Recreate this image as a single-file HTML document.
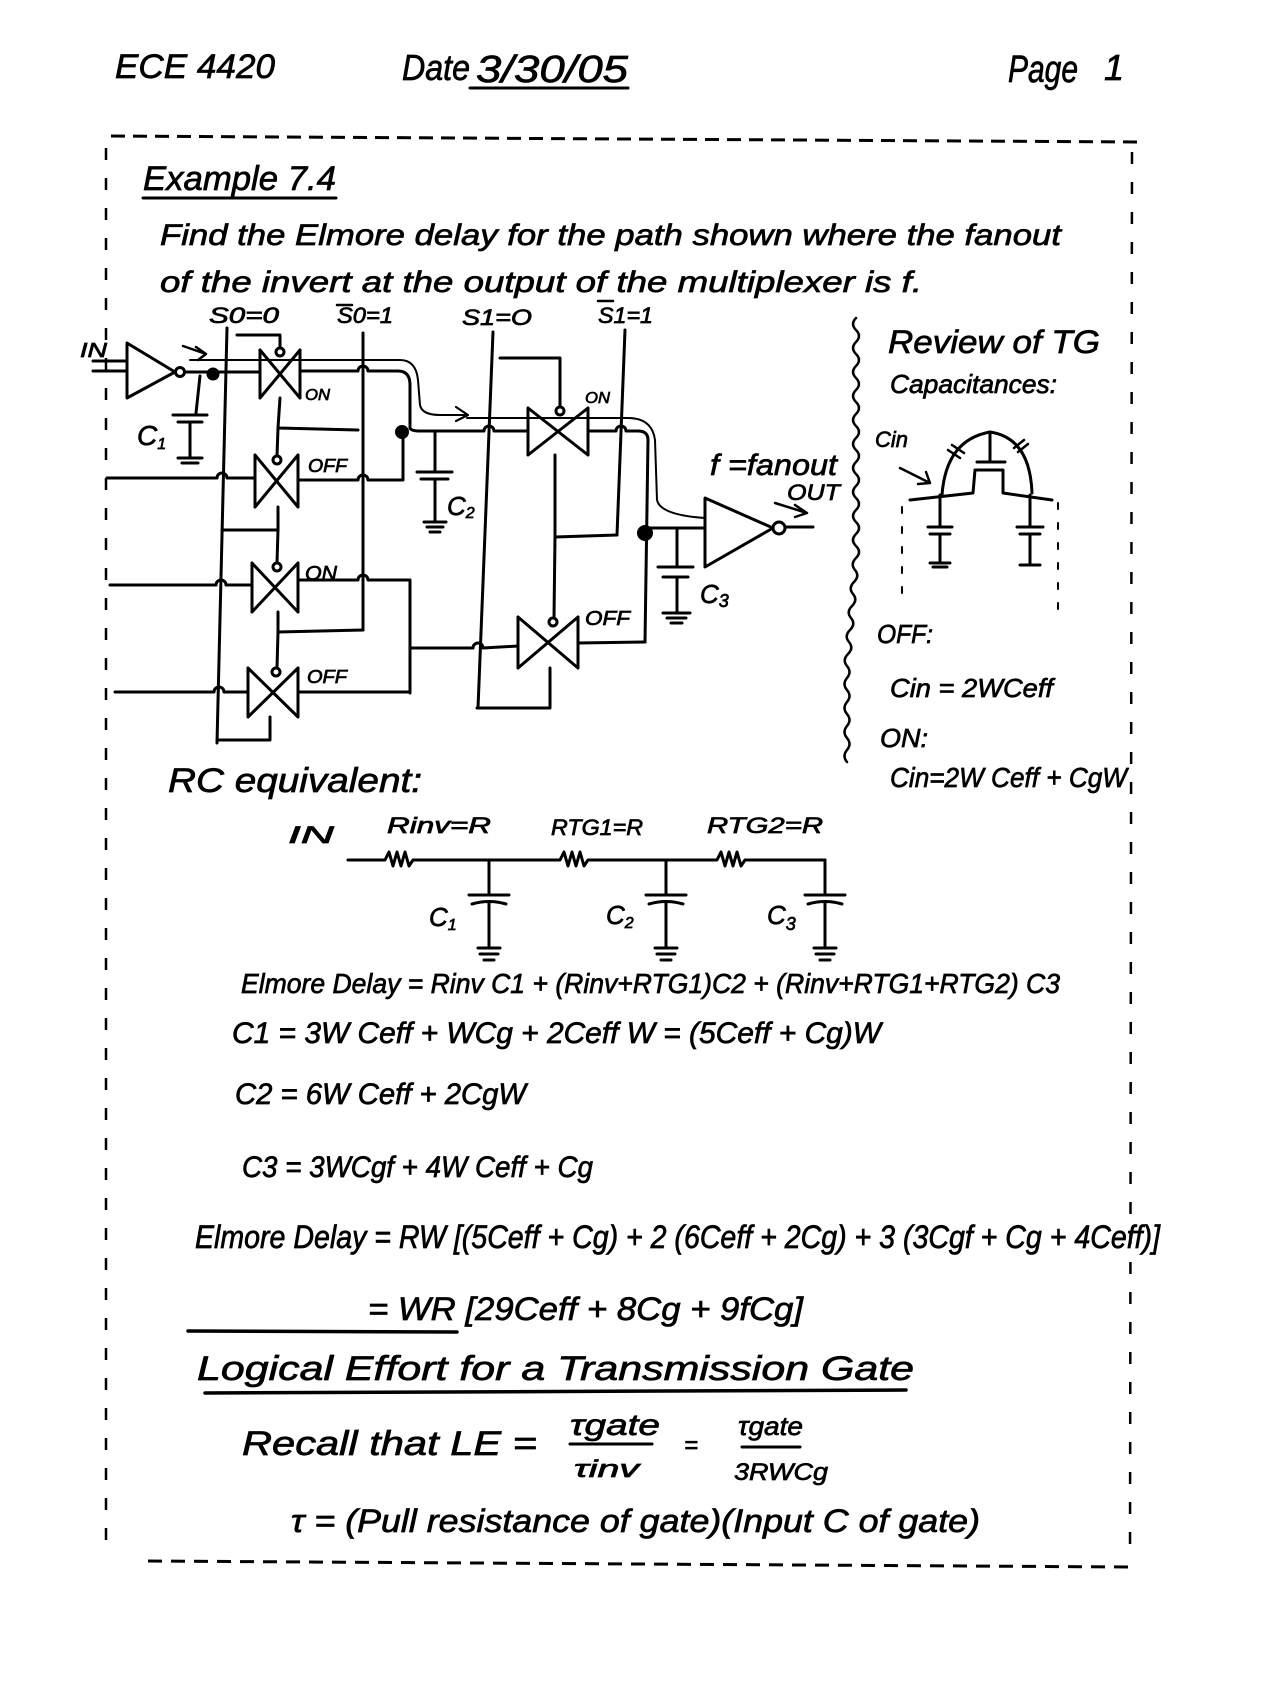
<!DOCTYPE html>
<html><head><meta charset="utf-8">
<style>
html,body{margin:0;padding:0;background:#fff;}
svg{display:block;}
text{font-family:"Liberation Sans",sans-serif;font-style:italic;fill:#000;stroke:#000;stroke-width:0.7px;}
</style></head>
<body>
<svg width="1280" height="1685" viewBox="0 0 1280 1685" xmlns="http://www.w3.org/2000/svg">
<rect width="1280" height="1685" fill="#fff"/>
<g>
<!-- header -->
<text x="115" y="78" font-size="34" textLength="160" lengthAdjust="spacingAndGlyphs">ECE 4420</text>
<text x="402" y="80" font-size="36" textLength="68" lengthAdjust="spacingAndGlyphs">Date</text>
<text x="476" y="82" font-size="38" textLength="152" lengthAdjust="spacingAndGlyphs">3/30/05</text>
<text x="1008" y="82" font-size="38" textLength="70" lengthAdjust="spacingAndGlyphs">Page</text>
<text x="1104" y="80" font-size="36">1</text>

<text x="143" y="190" font-size="34" textLength="193" lengthAdjust="spacingAndGlyphs">Example 7.4</text>
<text x="160" y="245" font-size="30" textLength="901" lengthAdjust="spacingAndGlyphs">Find the Elmore delay for the path shown where the fanout</text>
<text x="160" y="292" font-size="30" textLength="762" lengthAdjust="spacingAndGlyphs">of the invert at the output of the multiplexer is f.</text>

<!-- select labels -->
<text x="209" y="323" font-size="22" textLength="70" lengthAdjust="spacingAndGlyphs">S0=0</text>
<text x="337" y="323" font-size="22" textLength="56" lengthAdjust="spacingAndGlyphs">S0=1</text>
<text x="462" y="325" font-size="22" textLength="70" lengthAdjust="spacingAndGlyphs">S1=O</text>
<text x="598" y="323" font-size="22" textLength="55" lengthAdjust="spacingAndGlyphs">S1=1</text>
<text x="80" y="357" font-size="20" textLength="27" lengthAdjust="spacingAndGlyphs">IN</text>

<text x="137" y="445" font-size="28">C<tspan font-size="16" dy="4">1</tspan></text>
<text x="305" y="400" font-size="16" textLength="25" lengthAdjust="spacingAndGlyphs">ON</text>
<text x="308" y="472" font-size="18" textLength="39" lengthAdjust="spacingAndGlyphs">OFF</text>
<text x="305" y="580" font-size="20" textLength="32" lengthAdjust="spacingAndGlyphs">ON</text>
<text x="307" y="683" font-size="18" textLength="40" lengthAdjust="spacingAndGlyphs">OFF</text>
<text x="585" y="403" font-size="16" textLength="25" lengthAdjust="spacingAndGlyphs">ON</text>
<text x="585" y="625" font-size="20" textLength="45" lengthAdjust="spacingAndGlyphs">OFF</text>
<text x="447" y="515" font-size="26">C<tspan font-size="16" dy="3">2</tspan></text>
<text x="700" y="603" font-size="26">C<tspan font-size="18" dy="4">3</tspan></text>
<text x="710" y="475" font-size="30" textLength="127" lengthAdjust="spacingAndGlyphs">f =fanout</text>
<text x="787" y="500" font-size="22" textLength="53" lengthAdjust="spacingAndGlyphs">OUT</text>

<!-- review -->
<text x="888" y="353" font-size="32" textLength="212" lengthAdjust="spacingAndGlyphs">Review of TG</text>
<text x="890" y="393" font-size="26" textLength="167" lengthAdjust="spacingAndGlyphs">Capacitances:</text>
<text x="875" y="447" font-size="22" textLength="33" lengthAdjust="spacingAndGlyphs">Cin</text>
<text x="877" y="643" font-size="26" textLength="56" lengthAdjust="spacingAndGlyphs">OFF:</text>
<text x="890" y="697" font-size="26" textLength="163" lengthAdjust="spacingAndGlyphs">Cin = 2WCeff</text>
<text x="880" y="747" font-size="26" textLength="48" lengthAdjust="spacingAndGlyphs">ON:</text>
<text x="890" y="787" font-size="28" textLength="237" lengthAdjust="spacingAndGlyphs">Cin=2W Ceff + CgW</text>

<!-- RC equivalent -->
<text x="168" y="792" font-size="34" textLength="254" lengthAdjust="spacingAndGlyphs">RC equivalent:</text>
<text x="288" y="843" font-size="24" textLength="46" lengthAdjust="spacingAndGlyphs">IN</text>
<text x="387" y="833" font-size="22" textLength="104" lengthAdjust="spacingAndGlyphs">Rinv=R</text>
<text x="551" y="835" font-size="22" textLength="92" lengthAdjust="spacingAndGlyphs">RTG1=R</text>
<text x="707" y="833" font-size="22" textLength="116" lengthAdjust="spacingAndGlyphs">RTG2=R</text>
<text x="429" y="926" font-size="26">C<tspan font-size="16" dy="4">1</tspan></text>
<text x="606" y="924" font-size="26">C<tspan font-size="16" dy="4">2</tspan></text>
<text x="767" y="924" font-size="26">C<tspan font-size="18" dy="6">3</tspan></text>

<!-- equations -->
<text x="241" y="993" font-size="28" textLength="819" lengthAdjust="spacingAndGlyphs">Elmore Delay = Rinv C1 + (Rinv+RTG1)C2 + (Rinv+RTG1+RTG2) C3</text>
<text x="232" y="1043" font-size="30" textLength="649" lengthAdjust="spacingAndGlyphs">C1 = 3W Ceff + WCg + 2Ceff W = (5Ceff + Cg)W</text>
<text x="235" y="1104" font-size="30" textLength="291" lengthAdjust="spacingAndGlyphs">C2 = 6W Ceff + 2CgW</text>
<text x="242" y="1177" font-size="30" textLength="351" lengthAdjust="spacingAndGlyphs">C3 = 3WCgf + 4W Ceff + Cg</text>
<text x="195" y="1248" font-size="32" textLength="965" lengthAdjust="spacingAndGlyphs">Elmore Delay = RW [(5Ceff + Cg) + 2 (6Ceff + 2Cg) + 3 (3Cgf + Cg + 4Ceff)]</text>
<text x="368" y="1320" font-size="32" textLength="435" lengthAdjust="spacingAndGlyphs">= WR [29Ceff + 8Cg + 9fCg]</text>
<text x="197" y="1380" font-size="34" textLength="717" lengthAdjust="spacingAndGlyphs">Logical Effort for a Transmission Gate</text>
<text x="242" y="1455" font-size="34" textLength="295" lengthAdjust="spacingAndGlyphs">Recall that LE =</text>
<text x="570" y="1435" font-size="30" textLength="90" lengthAdjust="spacingAndGlyphs">τgate</text>
<text x="574" y="1477" font-size="24" textLength="65" lengthAdjust="spacingAndGlyphs">τinv</text>
<text x="684" y="1453" font-size="24">=</text>
<text x="738" y="1435" font-size="26" textLength="65" lengthAdjust="spacingAndGlyphs">τgate</text>
<text x="734" y="1480" font-size="24" textLength="94" lengthAdjust="spacingAndGlyphs">3RWCg</text>
<text x="291" y="1532" font-size="32" textLength="689" lengthAdjust="spacingAndGlyphs">τ = (Pull resistance of gate)(Input C of gate)</text>
</g>

<g fill="none" stroke="#000" stroke-width="3" stroke-linecap="round" stroke-linejoin="round">
<!-- underlines / bars -->
<line x1="470" y1="88" x2="628" y2="88"/>
<line x1="143" y1="198" x2="336" y2="198"/>
<line x1="337" y1="305" x2="352" y2="305" stroke-width="2.5"/>
<line x1="598" y1="301" x2="613" y2="301" stroke-width="2.5"/>
<line x1="188" y1="1331" x2="457" y2="1332" stroke-width="3.5"/>
<line x1="205" y1="1393" x2="906" y2="1390" stroke-width="3.5"/>
<line x1="570" y1="1444" x2="652" y2="1444"/>
<line x1="742" y1="1447" x2="800" y2="1447"/>

<!-- border -->
<line x1="111" y1="136" x2="1139" y2="142" stroke-dasharray="14 8" stroke-linecap="butt"/>
<line x1="106" y1="148" x2="106" y2="1555" stroke-dasharray="12 18" stroke-width="2.5" stroke-linecap="butt"/>
<line x1="1132" y1="152" x2="1130" y2="1562" stroke-dasharray="12 18" stroke-width="2.5" stroke-linecap="butt"/>
<line x1="148" y1="1561" x2="1128" y2="1567" stroke-dasharray="14 9" stroke-linecap="butt"/>

<!-- inverter 1 -->
<path d="M93,371 L127,371 M93,361 L127,361"/>
<polygon points="127,343 127,398 175,372"/>
<circle cx="180" cy="372" r="4.5"/>
<path d="M185,372 L260,372"/>
<path d="M183,346 L206,354 M196,347 L206,354 L198,360" stroke-width="2.5"/>
<circle cx="213" cy="374" r="5" fill="#000"/>
<!-- C1 -->
<path d="M200,376 L196,413 M173,415 L207,415 M178,422 L202,422 M190,422 L190,458 M178,458 L202,458 M182,463 L198,463"/>

<!-- select lines -->
<path d="M227,328 L217,743"/>
<path d="M363,333 L363,630"/>
<path d="M493,332 L478,708"/>
<path d="M625,330 L617,535"/>

<!-- TG1 -->
<path d="M260,350 L260,398 M300,350 L300,398 M260,350 L300,398 M260,398 L300,350"/>
<circle cx="280" cy="352" r="4"/>
<path d="M280,348 L280,335 L237,335"/>
<path d="M280,398 L278,428 L358,430"/>
<path d="M278,428 L277,456"/>
<!-- wire after TG1 -->
<path d="M300,371 L358,371 A5,5 0 0 1 368,371 L398,371 Q410,371 410,385 L410,428 Q411,431 420,431"/>
<!-- highlight path -->
<path d="M190,360 L400,360 Q416,360 418,380 L420,405 Q422,415 440,415 L467,415" stroke-width="2"/>
<path d="M456,407 L468,415 L456,421" stroke-width="2.2"/>

<!-- TG2 -->
<path d="M255,455 L255,507 M298,455 L298,507 M255,455 L298,507 M255,507 L298,455"/>
<circle cx="277" cy="460" r="4"/>
<path d="M107,478 L217,478 A5,5 0 0 1 227,478 L255,478"/>
<path d="M298,480 L358,480 A5,5 0 0 1 368,480 L403,480 L403,432"/>
<circle cx="402" cy="432" r="5.5" fill="#000"/>
<path d="M278,507 L278,530 L222,530 M278,530 L277,563"/>
<!-- C2 -->
<path d="M435,432 L435,472 M417,472 L452,472 M421,479 L448,479 M435,479 L435,522 M424,522 L446,522 M427,527 L443,527 M430,532 L440,532"/>

<!-- TG3 -->
<path d="M252,563 L252,612 M298,563 L298,612 M252,563 L298,612 M252,612 L298,563"/>
<circle cx="277" cy="567" r="4"/>
<path d="M110,585 L216,585 A5,5 0 0 1 226,585 L252,585"/>
<path d="M298,580 L358,580 A5,5 0 0 1 368,580 L410,580 L410,693"/>
<path d="M410,648 L473,648 A5,5 0 0 1 483,648 L518,646"/>
<path d="M278,612 L278,632 L363,630 M278,632 L277,668"/>

<!-- TG4 -->
<path d="M248,668 L248,717 M298,668 L298,717 M248,668 L298,717 M248,717 L298,668"/>
<circle cx="276" cy="672" r="4"/>
<path d="M115,692 L214,692 A5,5 0 0 1 224,692 L248,692"/>
<path d="M298,692 L410,692"/>
<path d="M270,717 L270,740 L217,740"/>

<!-- second stage -->
<path d="M420,431 L484,431 A5,5 0 0 1 494,431 L528,431"/>
<path d="M528,408 L528,455 M588,408 L588,455 M528,408 L588,455 M528,455 L588,408"/>
<circle cx="560" cy="411" r="4"/>
<path d="M560,407 L560,358 L500,358"/>
<path d="M555,455 L555,537 L617,535 M555,537 L554,617"/>
<path d="M588,431 L616,431 A5,5 0 0 1 626,431 L638,431 Q648,431 648,440 L645,642"/>
<path d="M467,418 L628,418 Q652,418 655,440 L657,500 Q660,515 705,518" stroke-width="2"/>

<path d="M518,617 L518,668 M578,617 L578,668 M518,617 L578,668 M518,668 L578,617"/>
<circle cx="553" cy="622" r="4"/>
<path d="M578,643 L645,642"/>
<path d="M550,668 L550,708 L477,708"/>
<circle cx="645" cy="533" r="6.5" fill="#000"/>
<path d="M645,528 L705,528"/>
<!-- C3 -->
<path d="M677,528 L677,567 M658,567 L693,567 M663,577 L688,577 M677,577 L677,613 M663,613 L690,613 M667,618 L686,618 M671,623 L682,623"/>
<!-- inverter 2 -->
<polygon points="705,498 705,567 773,528"/>
<circle cx="779" cy="528" r="6"/>
<path d="M785,527 L813,527"/>
<path d="M775,503 L807,513 M795,505 L807,513 L795,517" stroke-width="2.5"/>

<!-- wavy divider -->
<path d="M856,318 q-6,6 0,12 t0,12 t0,12 t0,12 t0,12 t0,12 t0,12 t0,12 t0,12 t0,12 t0,12 t0,12 t0,12 t0,12 t0,12 t0,12 t0,12 t0,12 t0,12 t0,12 t-1,12 t-1,12 t-1,12 t-1,12 t-1,12 t-1,12 t-1,12 t-1,12 t-1,12 t0,12 t0,12 t0,12 t0,12 t0,12 t0,12 t0,12 t0,12" stroke-width="2.5"/>

<!-- TG capacitance sketch -->
<path d="M900,468 L930,483 M918,484 L930,483 L926,472" stroke-width="2.5"/>
<path d="M910,500 L973,493 L975,470 L1003,470 L1003,493 L1052,500"/>
<path d="M977,462 L1005,462 M990,432 L990,462"/>
<path d="M942,495 Q946,440 990,432 Q1030,438 1032,493"/>
<path d="M948,450 L960,458 M952,445 L964,453 M1014,448 L1024,440 M1018,452 L1028,444" stroke-width="2.5"/>
<path d="M940,495 L940,527 M928,527 L952,527 M930,534 L950,534 M940,534 L940,563 M930,563 L950,563 M933,567 L947,567"/>
<path d="M1030,495 L1030,527 M1017,527 L1043,527 M1020,534 L1040,534 M1030,534 L1030,563 M1020,565 L1040,565"/>
<path d="M902,507 L902,593 M1058,503 L1058,617" stroke-dasharray="6 14" stroke-width="2"/>

<!-- RC network -->
<path d="M348,860 L385,860 l4,-8 l4,14 l4,-14 l4,14 l4,-14 l4,14 l4,-6 L560,860 l4,-8 l4,14 l4,-14 l4,14 l4,-14 l4,14 l4,-6 L717,860 l4,-8 l4,14 l4,-14 l4,14 l4,-14 l4,14 l4,-6 L825,860"/>
<path d="M489,860 L489,895 M469,895 L509,895 M472,904 Q489,899 506,904 M489,902 L489,947 M478,948 L500,948 M480,954 L498,954 M484,960 L494,960"/>
<path d="M666,860 L666,895 M646,895 L686,895 M649,904 Q666,899 683,904 M666,902 L666,947 M655,948 L677,948 M657,954 L675,954 M661,960 L671,960"/>
<path d="M825,860 L825,895 M805,895 L845,895 M808,904 Q825,899 842,904 M825,902 L825,947 M814,948 L836,948 M816,954 L834,954 M820,960 L830,960"/>
</g>
</svg>
</body></html>
